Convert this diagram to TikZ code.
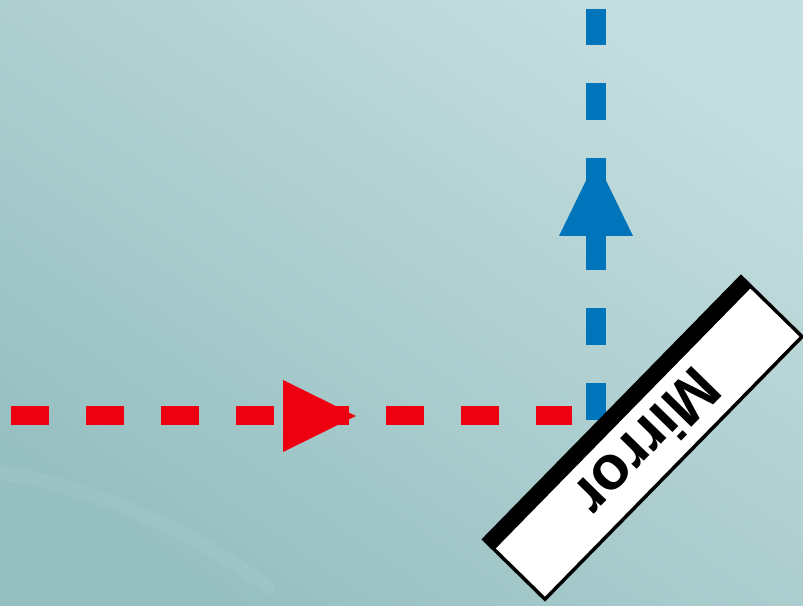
\documentclass[tikz,border=0pt]{standalone}
\usepackage{fontspec}
\setmainfont{Liberation Sans}
\definecolor{rayred}{RGB}{238,0,16}
\definecolor{rayblue}{RGB}{0,117,188}
\definecolor{bglight}{RGB}{196,221,222}
\definecolor{bgdark}{RGB}{150,191,193}
\begin{document}
\begin{tikzpicture}[x=1pt,y=1pt,
  redray/.style={draw=rayred, line width=19pt, dash pattern=on 38pt off 37pt},
  blueray/.style={draw=rayblue, line width=20pt, dash pattern=on 37pt off 38pt},
  redhead/.style={fill=rayred},
  bluehead/.style={fill=rayblue},
  mirrorlabel/.style={font=\bfseries\fontsize{62}{62}\selectfont, inner sep=0pt, rotate=225.6}]
\useasboundingbox (0,0) rectangle (803,605);
% background
\shade[shading=axis, top color=bglight, bottom color=bgdark, shading angle=-35] (0,0) rectangle (803,605);
\draw[white, opacity=0.05, line width=14pt, line cap=round] (0,132) .. controls (90,120) and (190,75) .. (267,18);
% rays
\coordinate (redstart) at (11,189);
\coordinate (redend) at (572,189);
\coordinate (bluestart) at (596,185);
\coordinate (blueend) at (596,596);
\draw[redray] (redstart) -- (redend);
\draw[blueray] (bluestart) -- (blueend);
\fill[redhead] (283,225) -- (356,189) -- (283,153) -- cycle;
\fill[bluehead] (596,445) -- (633,369) -- (559,369) -- cycle;
% mirror
\begin{scope}[shift={(643,167)}, rotate=45.6]
  \fill[white] (-183.75,-42.75) rectangle (183.75,42.75);
  \fill[black] (-183.75,28) rectangle (183.75,42.75);
  \draw[line width=3.5pt] (-183.75,-42.75) rectangle (183.75,42.75);
  \node[mirrorlabel] (label) at (0,-7) {Mirror};
\end{scope}
\end{tikzpicture}
\end{document}
